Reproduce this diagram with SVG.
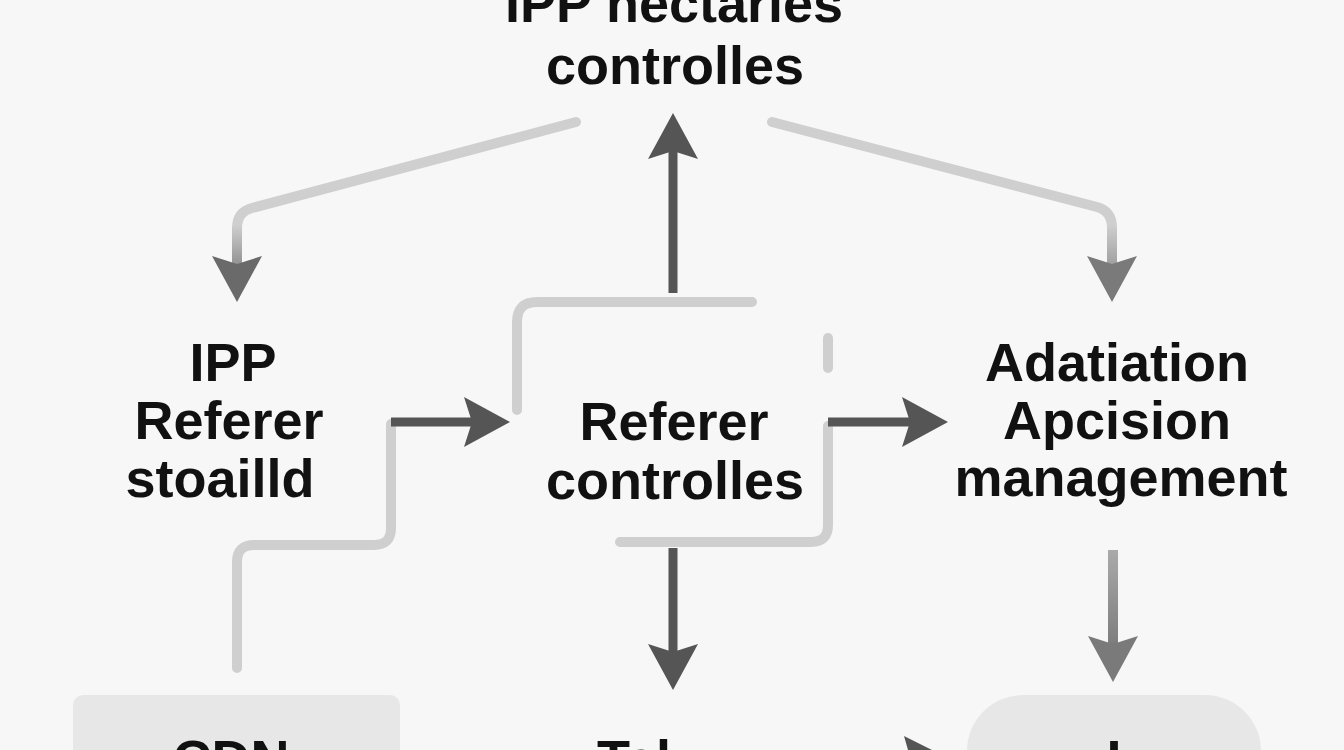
<svg xmlns="http://www.w3.org/2000/svg" width="1344" height="750" viewBox="0 0 1344 750">
  <style>
    .t { font-family: "Liberation Sans", Arial, sans-serif; font-weight: bold; font-size: 54px; fill: #111; text-anchor: middle; }
    .light { fill: none; stroke: #cfcfcf; stroke-width: 10; stroke-linecap: round; stroke-linejoin: round; }
    .dark { fill: none; stroke: #555; stroke-width: 9; stroke-linecap: butt; }
    .box { fill: #e7e7e7; }
  </style>
  <defs>
    <marker id="headDark" markerUnits="userSpaceOnUse" viewBox="0 0 46 50" markerWidth="46" markerHeight="50" refX="20" refY="25" orient="auto">
      <path d="M0,0 L46,25 L0,50 L8,25 Z" fill="#555"/>
    </marker>
    <marker id="headMid" markerUnits="userSpaceOnUse" viewBox="0 0 46 50" markerWidth="46" markerHeight="50" refX="20" refY="25" orient="auto">
      <path d="M0,0 L46,25 L0,50 L8,25 Z" fill="#6a6a6a"/>
    </marker>
    <marker id="headLight" markerUnits="userSpaceOnUse" viewBox="0 0 46 50" markerWidth="46" markerHeight="50" refX="20" refY="25" orient="auto">
      <path d="M0,0 L46,25 L0,50 L8,25 Z" fill="#7a7a7a"/>
    </marker>
    <linearGradient id="gL" gradientUnits="userSpaceOnUse" x1="0" y1="225" x2="0" y2="270">
      <stop offset="0" stop-color="#cfcfcf"/>
      <stop offset="1" stop-color="#8a8a8a"/>
    </linearGradient>
    <linearGradient id="gR" gradientUnits="userSpaceOnUse" x1="0" y1="225" x2="0" y2="270">
      <stop offset="0" stop-color="#cfcfcf"/>
      <stop offset="1" stop-color="#999"/>
    </linearGradient>
    <linearGradient id="gD" gradientUnits="userSpaceOnUse" x1="0" y1="550" x2="0" y2="650">
      <stop offset="0" stop-color="#aaa"/>
      <stop offset="1" stop-color="#7a7a7a"/>
    </linearGradient>
  </defs>

  <rect x="0" y="0" width="1344" height="750" fill="#f7f7f7"/>

  <g id="connectors">
    <!-- title to left node -->
    <path class="light" d="M576,122 L252,208 Q237,212 237,228"/>
    <path d="M237,226 V276" fill="none" stroke="url(#gL)" stroke-width="10" marker-end="url(#headMid)"/>
    <!-- title to right node -->
    <path class="light" d="M772,122 L1097,207 Q1112,211 1112,228"/>
    <path d="M1112,226 V276" fill="none" stroke="url(#gR)" stroke-width="10" marker-end="url(#headLight)"/>
    <!-- center up to title -->
    <path class="dark" d="M673,293 V139" stroke-linecap="round" marker-end="url(#headDark)"/>
    <path class="light" d="M517,410 V322 Q517,302 537,302 H752"/>
    <path class="light" d="M828,338 V368"/>
    <!-- left node to center -->
    <path class="light" d="M237,668 V562 Q237,545 254,545 H374 Q391,545 391,528 V424"/>
    <path class="dark" d="M391,422 H484" marker-end="url(#headDark)"/>
    <!-- center to right node -->
    <path class="light" d="M828,426 V525 Q828,542 811,542 H620"/>
    <path class="dark" d="M828,422 H922" marker-end="url(#headDark)"/>
    <!-- center down -->
    <path class="dark" d="M673,548 V664" marker-end="url(#headDark)"/>
    <!-- right node down -->
    <path d="M1113,550 V656" fill="none" stroke="url(#gD)" stroke-width="10" marker-end="url(#headLight)"/>
    <!-- bottom middle to bottom right -->
    <path d="M904,736 L960,764 L904,792 L912,764 Z" fill="#555"/>
  </g>

  <g id="node-title">
    <text class="t" x="674" y="22">IPP nectaries</text>
    <text class="t" x="675" y="84">controlles</text>
  </g>

  <g id="node-left">
    <text class="t" x="233" y="381">IPP</text>
    <text class="t" x="229" y="439">Referer</text>
    <text class="t" x="220" y="497">stoailld</text>
  </g>

  <g id="node-center">
    <text class="t" x="674" y="440">Referer</text>
    <text class="t" x="675" y="499">controlles</text>
  </g>

  <g id="node-right">
    <text class="t" x="1117" y="381">Adatiation</text>
    <text class="t" x="1117" y="439">Apcision</text>
    <text class="t" x="1121" y="496">management</text>
  </g>

  <g id="node-cdn">
    <rect class="box" x="73" y="695" width="327" height="110" rx="10"/>
    <text class="t" x="231" y="778">CDN</text>
  </g>

  <g id="node-bottom-center">
    <text class="t" x="597" y="778" style="text-anchor: start">Tal</text>
  </g>

  <g id="node-bottom-right">
    <rect class="box" x="967" y="695" width="294" height="130" rx="56"/>
    <text class="t" x="1114" y="778">I</text>
  </g>
</svg>
